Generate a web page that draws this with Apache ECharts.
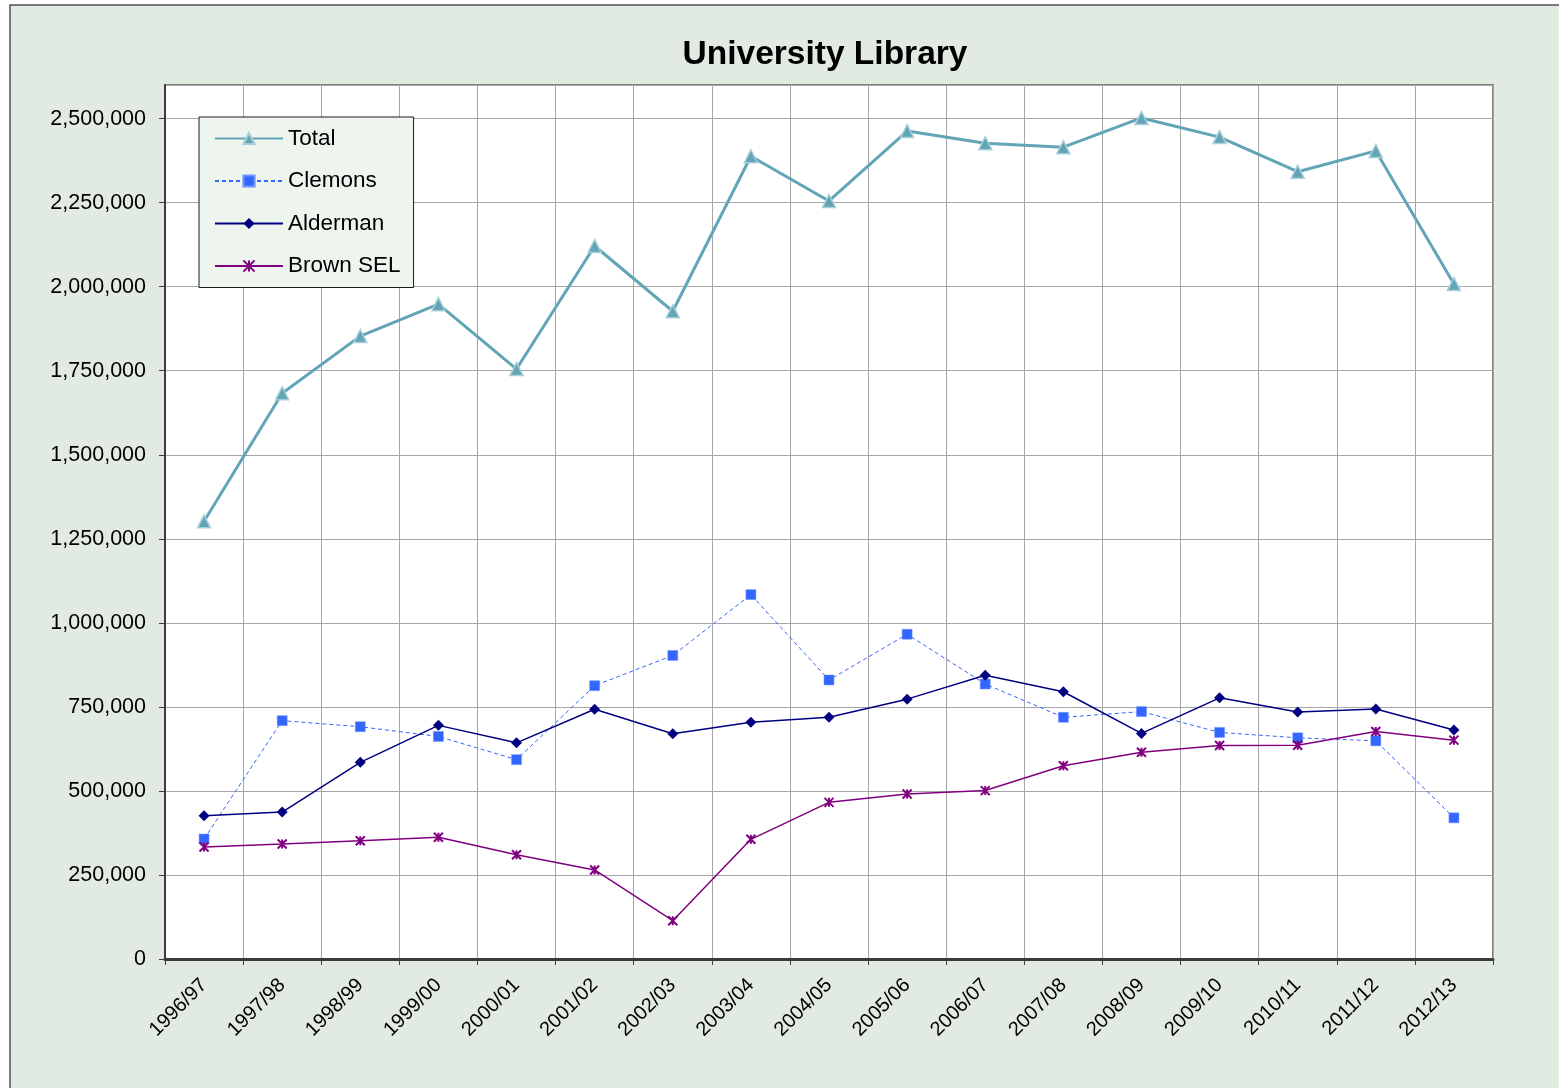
<!DOCTYPE html>
<html>
<head>
<meta charset="utf-8">
<title>University Library</title>
<script src="https://cdn.jsdelivr.net/npm/echarts@6/dist/echarts.min.js"></script>
<style>
    html, body { margin: 0; padding: 0; background: #fff; }
    #libraryChart { width: 1559px; height: 1088px; }
</style>
</head>
<body>
<div id="libraryChart"></div>
<script>
    // 年度
    const years = ['1996/97', '1997/98', '1998/99', '1999/00', '2000/01', '2001/02', '2002/03', '2003/04', '2004/05',
        '2005/06', '2006/07', '2007/08', '2008/09', '2009/10', '2010/11', '2011/12', '2012/13']
    const total = [1302000, 1683000, 1853000, 1948000, 1755000, 2121000, 1927000, 2388000, 2255000,
        2463000, 2427000, 2415000, 2502000, 2445000, 2342000, 2404000, 2008000]
    const clemons = [357000, 709000, 691000, 662000, 593000, 813000, 903000, 1084000, 830000,
        966000, 818000, 719000, 736000, 674000, 658000, 649000, 420000]
    const alderman = [426000, 437000, 585000, 695000, 643000, 743000, 670000, 704000, 719000,
        773000, 844000, 795000, 671000, 777000, 735000, 744000, 681000]
    const brownSel = [333000, 342000, 352000, 362000, 310000, 265000, 114000, 356000, 466000,
        491000, 501000, 575000, 615000, 635000, 636000, 677000, 651000]
    const yTicks = [0, 250000, 500000, 750000, 1000000, 1250000, 1500000, 1750000, 2000000, 2250000, 2500000]

    const font = "'Liberation Sans', Arial, sans-serif"
    const starPath = 'path://M0,0L10,10M10,0L0,10M5,0L5,10'

    const option = {
        backgroundColor: '#ffffff',
        textStyle: { fontFamily: font },
        graphic: [{
            type: 'rect',
            z: -10,
            shape: { x: 10, y: 5, width: 1600, height: 1120 },
            style: { fill: '#e2ebe2', stroke: '#505050', lineWidth: 1.5 }
        }],
        title: {
            text: 'University Library',
            left: 820,
            top: 33,
            textAlign: 'center',
            textStyle: { fontSize: 33.5, fontWeight: 'bold', color: '#000', fontFamily: font }
        },
        legend: {
            data: ['Total', 'Clemons', 'Alderman', 'Brown SEL'],
            orient: 'vertical',
            left: 199,
            top: 117,
            padding: [10, 13, 10, 15],
            itemGap: 19.5,
            itemWidth: 68,
            itemHeight: 14,
            backgroundColor: '#eef4ee',
            borderColor: '#1a1a1a',
            borderWidth: 1,
            borderRadius: 0,
            textStyle: { fontSize: 22.5, color: '#000', lineHeight: 22, fontFamily: font }
        },
        grid: {
            left: 165,
            right: 66,
            top: 85,
            bottom: 129,
            show: true,
            backgroundColor: '#ffffff',
            borderColor: '#808080',
            borderWidth: 2,
            containLabel: false
        },
        xAxis: {
            type: 'category',
            data: years,
            boundaryGap: true,
            axisLine: { lineStyle: { color: '#3c3c3c', width: 3 } },
            axisTick: { show: true, length: 6, lineStyle: { color: '#3c3c3c', width: 1 } },
            splitLine: { show: true, lineStyle: { color: '#a6a6a6', width: 1 } },
            axisLabel: { rotate: 45, margin: 23, fontSize: 20, color: '#000', fontFamily: font, interval: 0 }
        },
        yAxis: {
            type: 'value',
            min: 0,
            max: 2600000,
            interval: 250000,
            axisLine: { show: true, lineStyle: { color: '#3c3c3c', width: 2 } },
            axisTick: { show: true, length: 6, lineStyle: { color: '#3c3c3c', width: 1 } },
            splitLine: { show: true, lineStyle: { color: '#a6a6a6', width: 1 } },
            axisLabel: {
                margin: 19,
                fontSize: 21.5,
                color: '#000',
                fontFamily: font,
                showMaxLabel: false,
                formatter: (v) => yTicks.indexOf(v) >= 0 ? v.toLocaleString('en-US') : ''
            }
        },
        series: [
            {
                name: 'Total',
                type: 'line',
                data: total,
                symbol: 'triangle',
                symbolSize: 13,
                lineStyle: { color: '#62a5b6', width: 3 },
                itemStyle: { color: '#62a5b6', borderColor: '#a8cfd9', borderWidth: 1.5 },
                z: 4
            },
            {
                name: 'Clemons',
                type: 'line',
                data: clemons,
                symbol: 'rect',
                symbolSize: 10,
                lineStyle: { color: '#3366ff', width: 1, type: [4, 3] },
                itemStyle: { color: '#3366ff', borderColor: '#6f95ff', borderWidth: 0.5 },
                z: 3
            },
            {
                name: 'Alderman',
                type: 'line',
                data: alderman,
                symbol: 'diamond',
                symbolSize: 11,
                lineStyle: { color: '#000080', width: 1.5 },
                itemStyle: { color: '#000080' },
                z: 3
            },
            {
                name: 'Brown SEL',
                type: 'line',
                data: brownSel,
                symbol: starPath,
                symbolSize: 9,
                lineStyle: { color: '#800080', width: 1.5 },
                itemStyle: { color: '#800080', borderColor: '#800080', borderWidth: 2 },
                z: 3
            }
        ]
    }

    const libraryChart = echarts.init(document.getElementById('libraryChart'))
    libraryChart.setOption(option)
    window.addEventListener('resize', () => libraryChart.resize())
</script>
</body>
</html>
